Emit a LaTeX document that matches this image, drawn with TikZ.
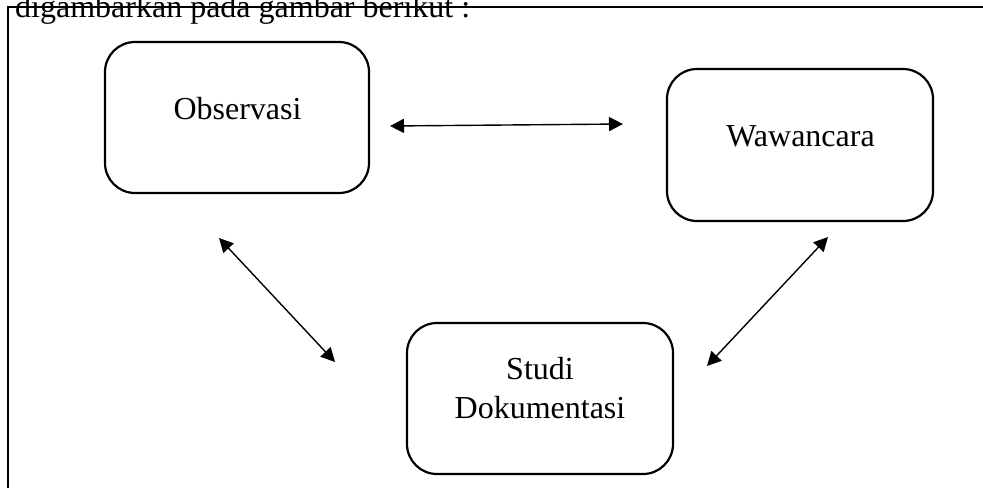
\documentclass[tikz,border=0pt]{standalone}
\usepackage{fontspec}
\setmainfont{Liberation Serif}
\usetikzlibrary{arrows.meta}
\begin{document}
\begin{tikzpicture}[x=1pt,y=-1pt,
  box/.style={draw, line width=2.2pt, rounded corners=30pt, inner sep=0pt},
  lbl/.style={anchor=base, inner sep=0pt, font=\fontsize{32}{39}\selectfont, align=center},
  arr/.style={{Triangle[length=14pt,width=14pt]}-{Triangle[length=14pt,width=14pt]}, line width=1.4pt},
  frame/.style={line width=2pt}]
\useasboundingbox (0,0) rectangle (983,488);
% caption text and frame
\node[anchor=base west, inner sep=0pt, font=\fontsize{32}{39}\selectfont] (cap) at (15,17.5) {digambarkan pada gambar berikut :};
\coordinate (fb) at (8,488);
\coordinate (fc) at (8,7);
\coordinate (fr) at (983,7);
\draw[frame] (fb) -- (fc) -- (fr);
% boxes
\node[box, minimum width=264pt, minimum height=151pt] (obs) at (237,117.5) {};
\node[box, minimum width=266pt, minimum height=152pt] (waw) at (800,145) {};
\node[box, minimum width=266pt, minimum height=151pt] (stu) at (540,398.5) {};
% labels
\node[lbl] (obsT) at (237.5,119) {Observasi};
\node[lbl] (wawT) at (800.5,146) {Wawancara};
\node[lbl] (stuT) at (540,418) {Studi\\Dokumentasi};
% arrow end points
\coordinate (h1) at (390,126);
\coordinate (h2) at (623,124);
\coordinate (l1) at (219,238);
\coordinate (l2) at (335,362);
\coordinate (r1) at (828,237);
\coordinate (r2) at (707,366);
\draw[arr] (h1) -- (h2);
\draw[arr] (l1) -- (l2);
\draw[arr] (r1) -- (r2);
\end{tikzpicture}
\end{document}
